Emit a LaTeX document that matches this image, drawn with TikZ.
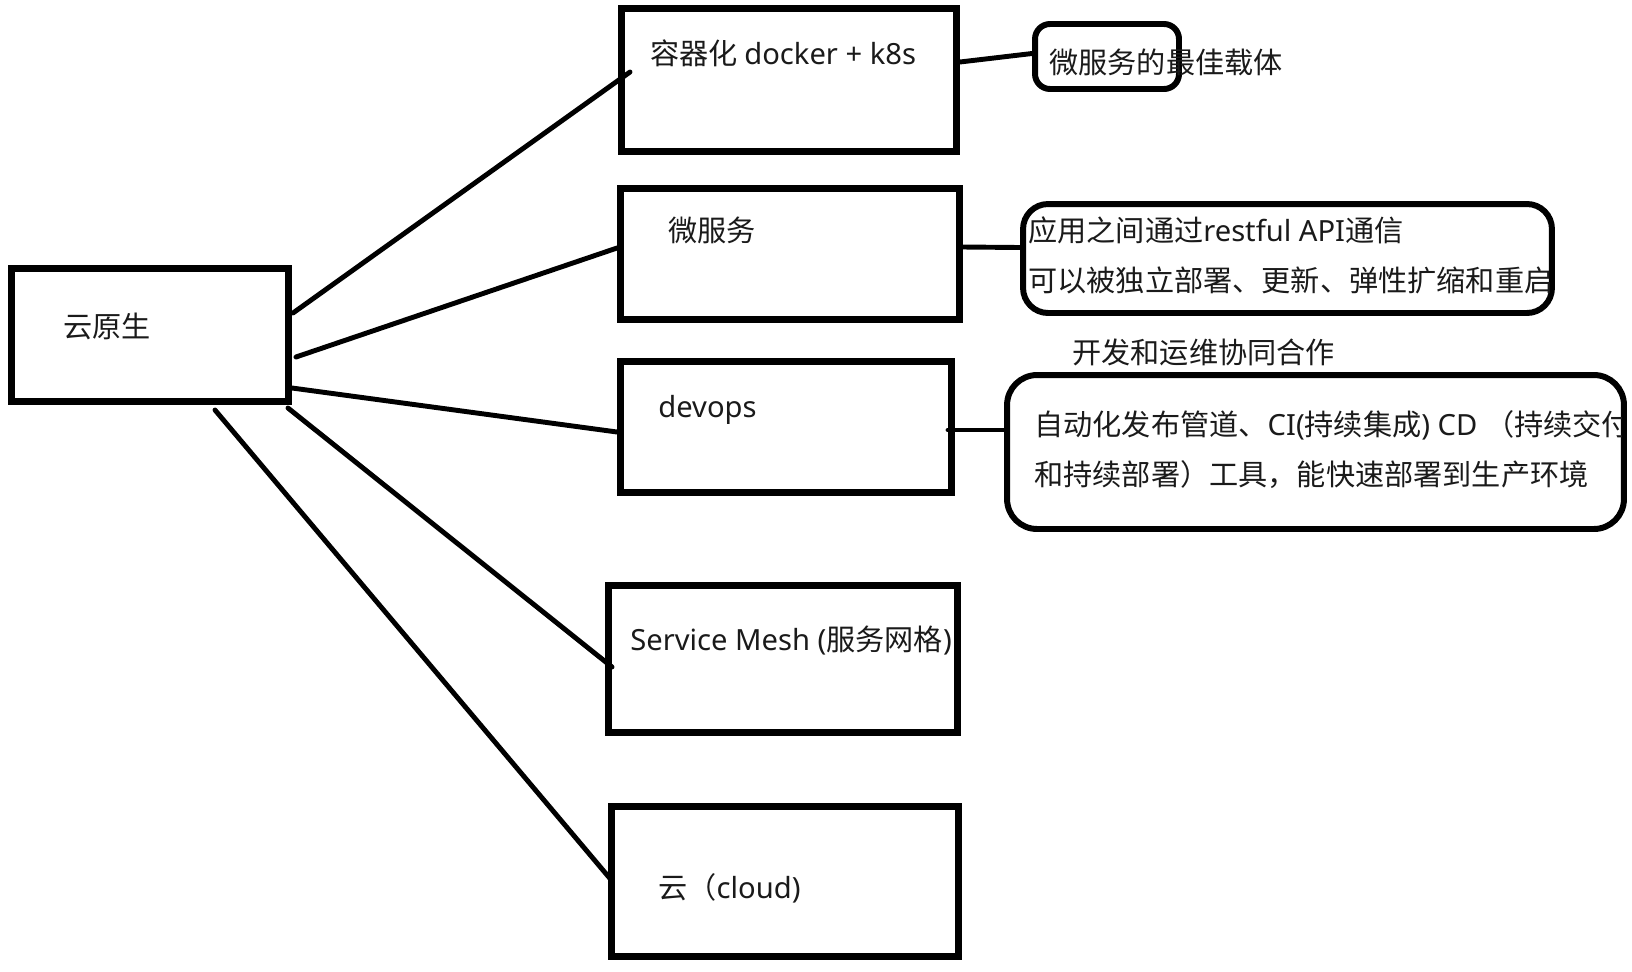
\documentclass[tikz,border=0pt]{standalone}
\usepackage{fontspec}
\newfontfamily\cjk{Noto Sans CJK SC}
\newfontfamily\en{Noto Sans}
\usetikzlibrary{calc}
\definecolor{ink}{HTML}{1A1A1A}
\tikzset{every node/.style={font=\cjk\fontsize{16.6}{28.45}\selectfont,text=ink},
  box/.style={draw,line width=4pt,inner sep=0pt},
  note/.style={draw,line width=3.4pt,inner sep=0pt,rounded corners=.5cm},
  link/.style={line width=2.8pt,line cap=round},
  txt/.style={anchor=west,inner sep=0pt,align=left}}

\begin{document}
\begin{tikzpicture}[x=.02cm,y=-.02cm]
\useasboundingbox(0,0)rectangle(1632,971);
\node[box,minimum width=5.54cm,minimum height=2.66cm](yun)at(150,335){};
\node[box,minimum width=6.70cm,minimum height=2.86cm](rq)at(789,80){};
\node[box,minimum width=6.78cm,minimum height=2.62cm](wfw)at(790,254){};
\node[box,minimum width=6.62cm,minimum height=2.62cm](dev)at(786,427){};
\node[box,minimum width=6.98cm,minimum height=2.94cm](mesh)at(783,659){};
\node[box,minimum width=6.94cm,minimum height=3.00cm](cloud)at(785,881.5){};
\node[note,rounded corners=.3cm,minimum width=2.88cm,minimum height=1.30cm](best)at(1107,56.5){};
\node[note,minimum width=10.58cm,minimum height=2.18cm](rest)at(1287.5,258.5){};
\node[note,rounded corners=.6cm,minimum width=12.34cm,minimum height=3.08cm](devbox)at(1315.5,452){};
\node[txt](yunt)at(63,326){云原生};
\node[txt](rqt)at(650,53){容器化 {\en docker + k8s}};
\node[txt](wfwt)at(668,230){微服务};
\node[txt](devt)at(658,410){\en devops};
\node[txt](mesht)at(630,641){{\en Service Mesh (}服务网格{\en )}};
\node[txt](cloudt)at(658,888){云（{\en cloud)}};
\node[txt](bestt)at(1049,62){微服务的最佳载体};
\node[txt](restt)at(1028,255){应用之间通过{\en restful API}通信\\可以被独立部署、更新、弹性扩缩和重启};
\node[txt](devlbl)at(1072,352){开发和运维协同合作};
\begin{scope}
\clip(devbox.north west)rectangle($(devbox.south east)+(-5,0)$);
\node[txt](devboxt)at(1034,450){自动化发布管道、{\en CI(}持续集成{\en ) CD }（持续交付\\和持续部署）工具，能快速部署到生产环境};
\end{scope}
\draw[link]($(yun.east)+(1,-22)$)--($(rq.west)+(12,-8)$);
\draw[link]($(yun.east)+(4,22)$)--($(wfw.west)+(0,-6)$);
\draw[link]($(yun.east)+(0,53)$)--($(dev.west)+(0,5)$);
\draw[link]($(yun.south east)+(-4,3)$)--($(mesh.west)+(7,8)$);
\draw[link]($(yun.south)+(65,5)$)--($(cloud.west)+(2,-3)$);
\draw[link]($(rq.east)+(0,-18)$)--($(best.west)+(0,-3)$);
\draw[link]($(wfw.east)+(0,-7)$)--($(rest.west)+(0,-11)$);
\draw[link]($(dev.east)+(-7,3)$)--($(devbox.west)+(0,-22)$);
\end{tikzpicture}
\end{document}
